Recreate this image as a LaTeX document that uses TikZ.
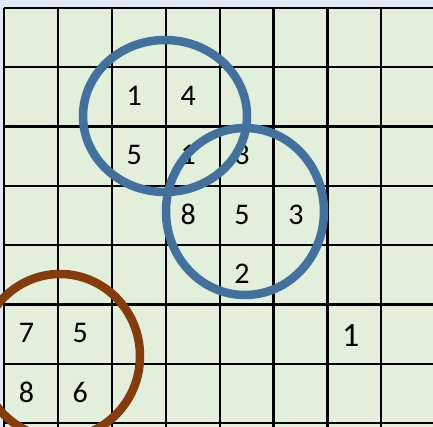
\documentclass[tikz,border=0pt]{standalone}
\usepackage{fontspec}
\setmainfont{Carlito}
\usepackage{xcolor}
\usepackage{tikz}

\definecolor{skyback}{HTML}{DFE9F5}
\definecolor{gridfill}{HTML}{E2EFDA}
\definecolor{ringblue}{HTML}{41719C}
\definecolor{ringbrown}{HTML}{843C0C}

\begin{document}
\begin{tikzpicture}[
    x=1pt,y=-1pt,
    cell/.style={inner sep=0pt,font=\fontsize{30}{33}\selectfont},
    bigcell/.style={cell,font=\fontsize{34}{37}\selectfont},
    gridline/.style={line width=2.2pt,black},
    ring/.style={line width=8.5pt,draw=ringblue},
    brownring/.style={ring,draw=ringbrown}
]
\useasboundingbox (0,0) rectangle (433,427);
\clip (0,0) rectangle (433,427);
\fill[skyback] (0,0) rectangle (433,427);
\fill[gridfill] (4,8) rectangle (440,440);

% grid
\foreach \i in {0,...,7}
    \draw[gridline] ({4+53.9*\i},8) -- ({4+53.9*\i},440);
\foreach \j in {0,...,7}
    \draw[gridline] (4,{8+59.3*\j}) -- (440,{8+59.3*\j});

% numbers in the cells (column/row/text/name)
\foreach \c/\r/\t/\n in {3/2/1/ca, 4/2/4/cb, 3/3/5/cc, 4/3/1/cd, 5/3/3/ce,
                         4/4/8/cf, 5/4/5/cg, 6/4/3/ch, 5/5/2/ci,
                         1/6/7/cj, 2/6/5/ck, 1/7/8/cl, 2/7/6/cm}
    \node[cell] (\n) at ({4+53.9*(\c-0.5)-4.5},{8+59.3*(\r-0.5)-1}) {\t};
\node[bigcell] (lone) at ({4+53.9*6.5-3.5},{8+59.3*5.5+1.5}) {1};

% rings
\draw[ring] (165,116) ellipse [x radius=82,y radius=76];
\draw[ring] (245,211.5) ellipse [x radius=79,y radius=83.5];
\draw[brownring] (60,356) ellipse [x radius=80,y radius=82];
\end{tikzpicture}
\end{document}
